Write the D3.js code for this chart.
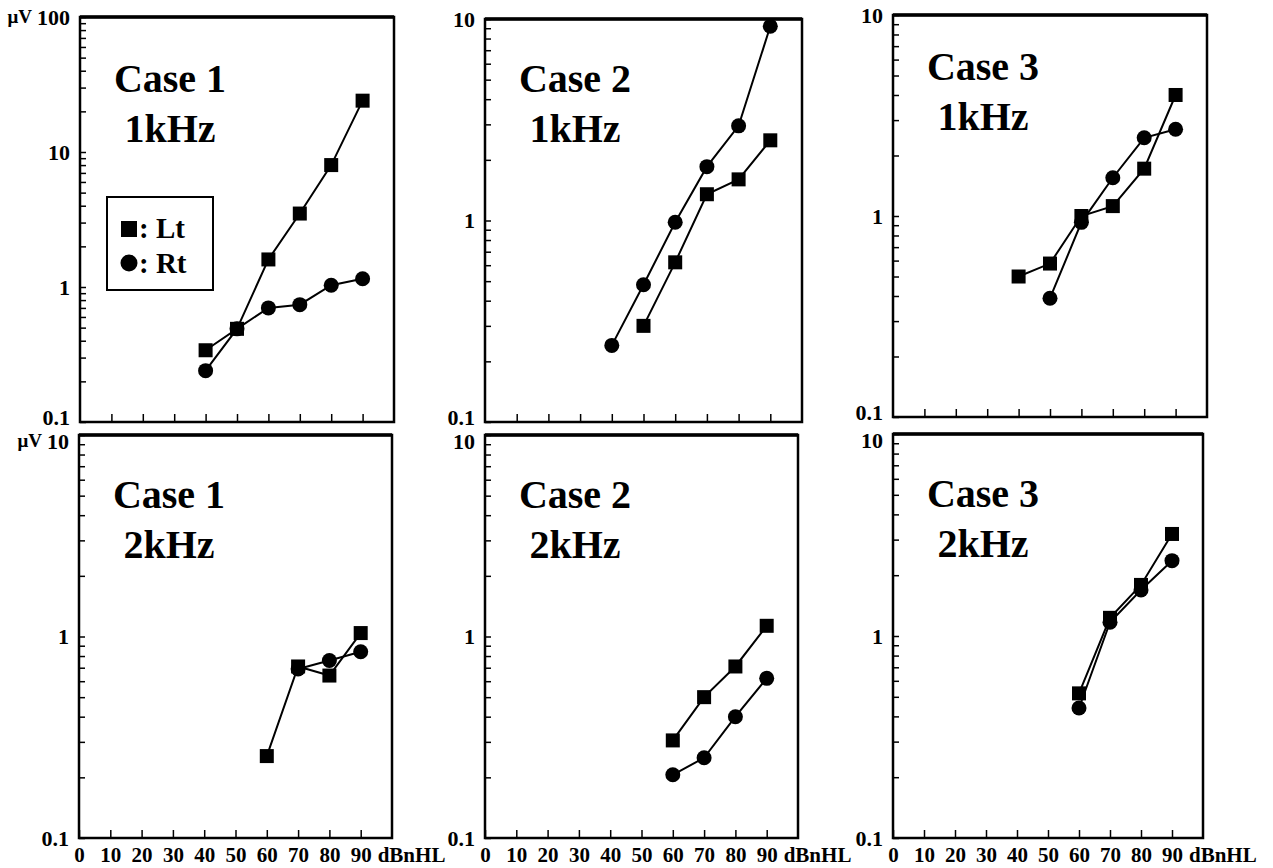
<!DOCTYPE html>
<html>
<head>
<meta charset="utf-8">
<script src="https://cdn.jsdelivr.net/npm/d3@7"></script>
<style>
  body { margin: 0; background: #fff; }
</style>
</head>
<body>
<script>
// ---- data ----
const caseNames = ["Case 1", "Case 2", "Case 3", "Case 1", "Case 2", "Case 3"];
const freqNames = ["1kHz", "1kHz", "1kHz", "2kHz", "2kHz", "2kHz"];

const ltLevels = [
  [40, 50, 60, 70, 80, 90],
  [50, 60, 70, 80, 90],
  [40, 50, 60, 70, 80, 90],
  [60, 70, 80, 90],
  [60, 70, 80, 90],
  [60, 70, 80, 90]
];
const ltValues = [
  [0.34, 0.49, 1.6, 3.5, 8.0, 24],
  [0.30, 0.62, 1.35, 1.6, 2.5],
  [0.50, 0.58, 1.0, 1.12, 1.72, 4.0],
  [0.255, 0.71, 0.64, 1.04],
  [0.305, 0.50, 0.71, 1.13],
  [0.52, 1.23, 1.79, 3.2]
];
const rtLevels = [
  [40, 50, 60, 70, 80, 90],
  [40, 50, 60, 70, 80, 90],
  [50, 60, 70, 80, 90],
  [70, 80, 90],
  [60, 70, 80, 90],
  [60, 70, 80, 90]
];
const rtValues = [
  [0.24, 0.49, 0.70, 0.74, 1.03, 1.15],
  [0.24, 0.48, 0.98, 1.85, 2.95, 9.2],
  [0.39, 0.93, 1.55, 2.45, 2.7],
  [0.69, 0.76, 0.84],
  [0.206, 0.25, 0.40, 0.62],
  [0.44, 1.17, 1.69, 2.36]
];

const yTops = [100, 10, 10, 10, 10, 10];
const yMajor = [0.1, 1, 10, 100];
const xTicks = [0, 10, 20, 30, 40, 50, 60, 70, 80, 90];
const xUnit = "dBnHL";
const yUnit = "\u03bcV";
const legendLabels = [": Lt", ": Rt"];

// ---- layout ----
let canvasW = 1273;
let canvasH = 868;
let serif = "'Liberation Serif', 'Times New Roman', Times, serif";

let frames = [
  { left: 80,  right: 394,  top: 17,  bottom: 422, titleY: 92 },
  { left: 485, right: 802,  top: 19,  bottom: 422, titleY: 92 },
  { left: 893, right: 1207, top: 15,  bottom: 417, titleY: 80 },
  { left: 79,  right: 392,  top: 435, bottom: 838, titleY: 508 },
  { left: 485, right: 798,  top: 435, bottom: 838, titleY: 508 },
  { left: 893, right: 1203, top: 434, bottom: 838, titleY: 507 }
];

let svg = d3.select("body").append("svg")
  .attr("width", canvasW)
  .attr("height", canvasH)
  .style("background-color", "#fff");

frames.forEach((f, i) => {

  let bottomRow = i >= 3;
  let x = d3.scaleLinear().domain([0, 100]).range([f.left, f.right]);
  let y = d3.scaleLog().domain([0.1, yTops[i]]).range([f.bottom, f.top]);

  let g = svg.append("g");

  // log ticks 1..9 per decade
  let yTickVals = [];
  for (let dec = 0.1; dec < yTops[i] * 0.99; dec *= 10) {
    for (let k = 1; k <= 9; k++) yTickVals.push(+(dec * k).toPrecision(3));
  }
  yTickVals.push(yTops[i]);
  let majors = yMajor.filter(v => v <= yTops[i]);

  let yAxisG = g.append("g")
    .attr("transform", `translate(${f.left},0)`)
    .call(d3.axisLeft(y)
      .tickValues(yTickVals)
      .tickSizeInner(-6)
      .tickSizeOuter(0)
      .tickPadding(10)
      .tickFormat(v => majors.includes(v) ? String(v) : ""))
    .attr("font-family", serif)
    .attr("font-size", 22)
    .attr("font-weight", "bold");
  yAxisG.select(".domain").remove();
  yAxisG.selectAll(".tick line").attr("stroke", "#000").attr("stroke-width", 1.5);
  yAxisG.selectAll(".tick text").attr("fill", "#000")
    // end labels nudged off the neighbouring panel, as in the scan
    .attr("y", d => (!bottomRow && d == 0.1) ? -5 : (bottomRow && d == yTops[i]) ? 6 : 0);

  let xAxisG = g.append("g")
    .attr("transform", `translate(0,${f.bottom})`)
    .call(d3.axisBottom(x)
      .tickValues(bottomRow ? xTicks : xTicks.slice(1))
      .tickSizeInner(-8)
      .tickSizeOuter(0)
      .tickPadding(9)
      .tickFormat(bottomRow ? (d => d) : (() => "")))
    .attr("font-family", serif)
    .attr("font-size", 21)
    .attr("font-weight", "bold");
  xAxisG.select(".domain").remove();
  xAxisG.selectAll(".tick line").attr("stroke", "#000").attr("stroke-width", 1.5);
  xAxisG.selectAll(".tick text").attr("fill", "#000");

  if (bottomRow) {
    g.append("text")
      .attr("x", x(90) + 17)
      .attr("y", f.bottom + 9)
      .attr("dy", "0.71em")
      .attr("font-family", serif)
      .attr("font-size", 21)
      .attr("font-weight", "bold")
      .text(xUnit);
  }

  // frame
  g.append("rect")
    .attr("x", f.left).attr("y", f.top)
    .attr("width", f.right - f.left).attr("height", f.bottom - f.top)
    .attr("fill", "none").attr("stroke", "#000").attr("stroke-width", 2.5);
  g.append("line")
    .attr("x1", f.left).attr("x2", f.right).attr("y1", f.top).attr("y2", f.top)
    .attr("stroke", "#000").attr("stroke-width", 3.5);

  // unit label left of top tick label (first column)
  if (i % 3 == 0) {
    let topText = yAxisG.selectAll(".tick text").filter(d => d == yTops[i]).node();
    let bb = topText.getBBox();
    g.append("text")
      .attr("x", f.left - 10 - bb.width - 5)
      .attr("y", y(yTops[i]) + (bottomRow ? 6 : 0))
      .attr("dy", "0.32em")
      .attr("text-anchor", "end")
      .attr("font-family", serif)
      .attr("font-size", 19)
      .attr("font-weight", "bold")
      .text(yUnit);
  }

  // title
  let cx = f.left + 90;
  g.append("text")
    .attr("x", cx).attr("y", f.titleY)
    .attr("text-anchor", "middle")
    .attr("font-family", serif).attr("font-size", 40).attr("font-weight", "bold")
    .text(caseNames[i]);
  g.append("text")
    .attr("x", cx).attr("y", f.titleY + 50)
    .attr("text-anchor", "middle")
    .attr("font-family", serif).attr("font-size", 40).attr("font-weight", "bold")
    .text(freqNames[i]);

  let line = d3.line().x(d => x(d[0])).y(d => y(d[1]));
  let rt = rtLevels[i].map((l, j) => [l, rtValues[i][j]]);
  let lt = ltLevels[i].map((l, j) => [l, ltValues[i][j]]);

  g.append("path").datum(rt).attr("d", line)
    .attr("fill", "none").attr("stroke", "#000").attr("stroke-width", 2);
  g.append("path").datum(lt).attr("d", line)
    .attr("fill", "none").attr("stroke", "#000").attr("stroke-width", 2);

  g.selectAll("circle.rt").data(rt).join("circle")
    .attr("class", "rt")
    .attr("cx", d => x(d[0])).attr("cy", d => y(d[1]))
    .attr("r", 7.5).attr("fill", "#000");
  g.selectAll("rect.lt").data(lt).join("rect")
    .attr("class", "lt")
    .attr("x", d => x(d[0]) - 7).attr("y", d => y(d[1]) - 7)
    .attr("width", 14).attr("height", 14).attr("fill", "#000");

  // legend only in first panel
  if (i == 0) {
    let lg = g.append("g");
    lg.append("rect")
      .attr("x", 107).attr("y", 197).attr("width", 106).attr("height", 93)
      .attr("fill", "#fff").attr("stroke", "#000").attr("stroke-width", 2);
    lg.append("rect")
      .attr("x", 121).attr("y", 221).attr("width", 16).attr("height", 16).attr("fill", "#000");
    lg.append("circle")
      .attr("cx", 129).attr("cy", 263).attr("r", 8.5).attr("fill", "#000");
    legendLabels.forEach((t, k) => {
      lg.append("text")
        .attr("x", 139).attr("y", 238 + k * 35)
        .attr("font-family", serif).attr("font-size", 29).attr("font-weight", "bold")
        .text(t);
    });
  }
});
</script>
</body>
</html>
